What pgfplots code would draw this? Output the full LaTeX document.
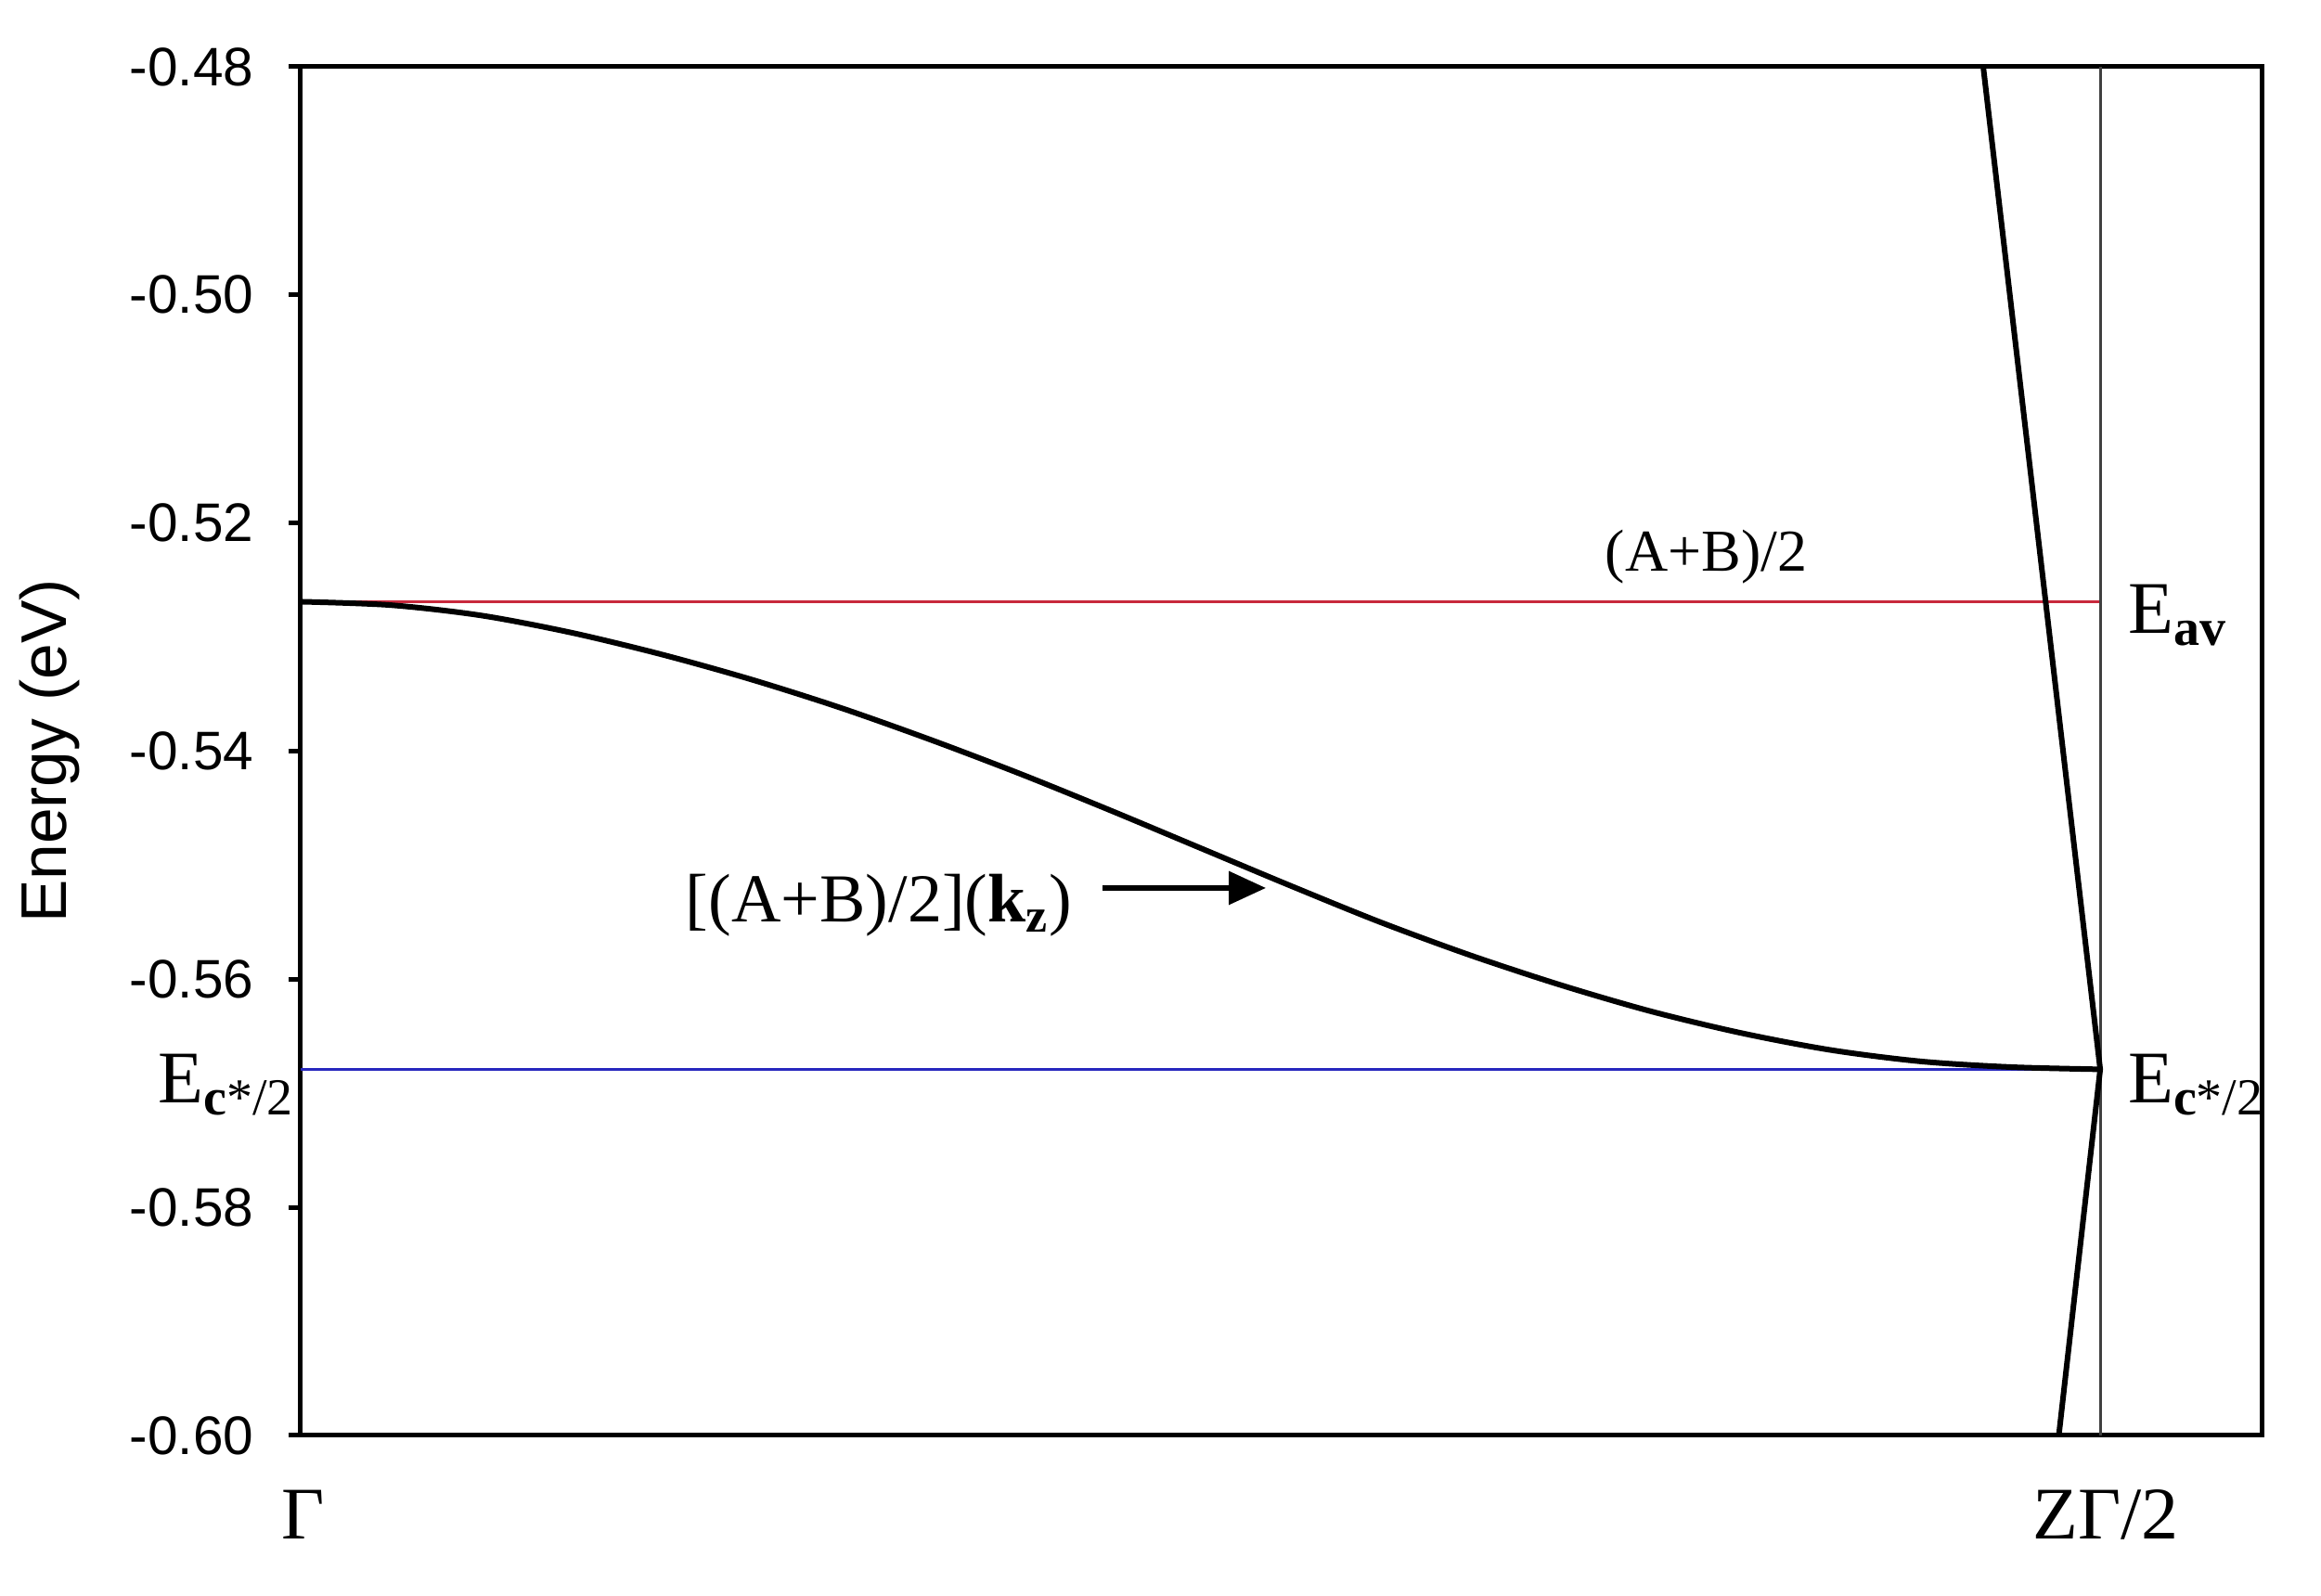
\documentclass[border=0pt]{standalone}
\usepackage{fontspec}
\setmainfont{Liberation Serif}
\newfontfamily\arial{Liberation Sans}
\usepackage{pgfplots}
\pgfplotsset{compat=1.18}
\usetikzlibrary{arrows.meta}
\definecolor{avred}{RGB}{200,40,60}
\definecolor{cblue}{RGB}{40,40,190}

\begin{document}
\begin{tikzpicture}
\begin{axis}[
    name=ax,
    scale only axis,
    width=422.6pt, height=295pt,
    xmin=0, xmax=1.0897,
    ymin=-0.60, ymax=-0.48,
    xtick=\empty,
    ytick={-0.60,-0.58,-0.56,-0.54,-0.52,-0.50,-0.48},
    yticklabels={-0.60,-0.58,-0.56,-0.54,-0.52,-0.50,-0.48},
    ytick pos=left,
    tick align=outside,
    major tick length=2.6pt,
    tick style={line width=1pt, black},
    axis line style={line width=1pt},
    yticklabel style={font=\arial\fontsize{11.7}{13}\selectfont, xshift=-4pt},
    ylabel={Energy (eV)},
    ylabel style={font=\arial\fontsize{13.9}{16}\selectfont,
      at={(axis description cs:-0.128,0.5)}, anchor=center},
    clip=false,
  ]

  % reference levels
  \addplot[avred, line width=0.75pt] coordinates {(0,-0.5269) (1,-0.5269)};
  \addplot[cblue, line width=0.75pt] coordinates {(0,-0.5679) (1,-0.5679)};
  % zone boundary
  \addplot[black!75, line width=0.6pt] coordinates {(1,-0.60) (1,-0.48)};

  % [(A+B)/2](kz) band
  \addplot[black, line width=1.2pt, smooth] table {
    x      y
    0.00  -0.5269
    0.05  -0.5272
    0.10  -0.5281
    0.15  -0.5296
    0.20  -0.5315
    0.25  -0.5337
    0.30  -0.5362
    0.35  -0.5390
    0.40  -0.5420
    0.45  -0.5452
    0.50  -0.5485
    0.55  -0.5518
    0.60  -0.5550
    0.65  -0.5579
    0.70  -0.5605
    0.75  -0.5628
    0.80  -0.5647
    0.85  -0.5662
    0.90  -0.5672
    0.95  -0.5677
    1.00  -0.5679
  };

  % steep band near the zone boundary
  \addplot[black, line width=1.2pt] coordinates {(0.935,-0.48) (1,-0.5679) (0.977,-0.60)};

  \node[font=\fontsize{12.8}{14}\selectfont] at (axis cs:0.781,-0.5230) {(A+B)/2};
  \node[anchor=west, inner sep=0, font=\fontsize{14.8}{17}\selectfont]
    at (axis cs:0.2135,-0.5535) {[(A+B)/2](\textbf{k}\textsubscript{\textbf{z}})};
  \draw[line width=1.2pt, -{Triangle[length=8pt,width=7pt]}]
    (axis cs:0.4456,-0.552) -- (axis cs:0.5364,-0.552);

  \node[anchor=base west, inner sep=0, font=\fontsize{16}{19}\selectfont]
    at (axis cs:1.015,-0.5297) {E\textsubscript{\textbf{av}}};
  \node[anchor=base west, inner sep=0, font=\fontsize{16}{19}\selectfont]
    at (axis cs:1.015,-0.5708) {E\textsubscript{\textbf{c}*/2}};
  \node[anchor=base east, inner sep=0, font=\fontsize{16}{19}\selectfont]
    at (axis cs:-0.0025,-0.5708) {E\textsubscript{\textbf{c}*/2}};

  \node[anchor=base, inner sep=0, font=\fontsize{16}{19}\selectfont]
    at (axis cs:0.0015,-0.6091) {Γ};
  \node[anchor=base, inner sep=0, font=\fontsize{16}{19}\selectfont]
    at (axis cs:1.003,-0.6091) {ZΓ/2};
\end{axis}
\path (ax.south west) ++(-64.8pt,-34.6pt) rectangle ++(500.2pt,344pt);
\end{tikzpicture}
\end{document}
